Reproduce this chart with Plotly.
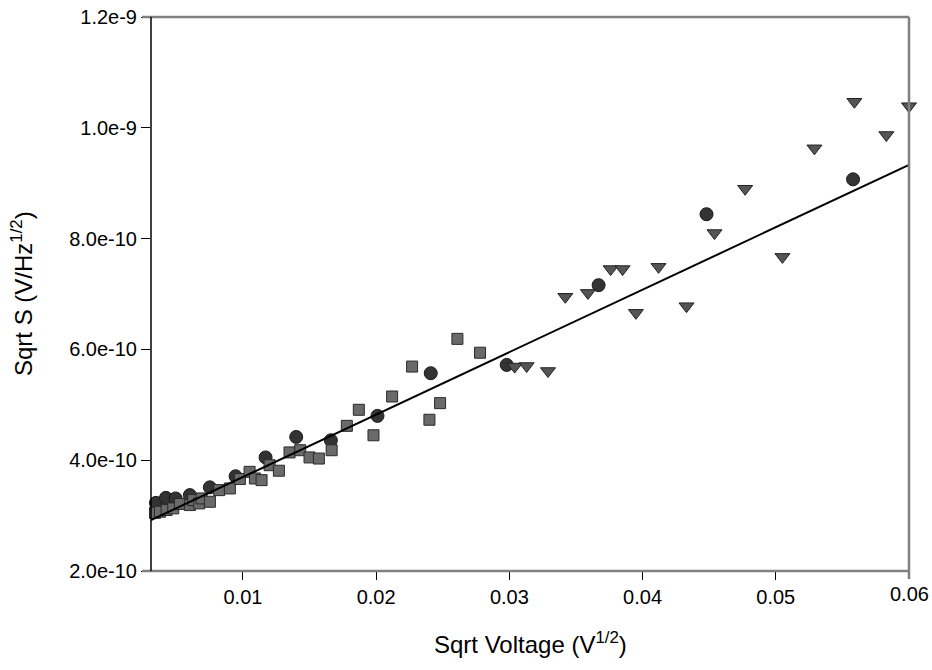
import plotly.graph_objects as go

# Series 1: circles
circ_x = [0.00347, 0.00422, 0.00495, 0.00602, 0.00752, 0.00945, 0.0117, 0.0140, 0.0166,
          0.0201, 0.0241, 0.0298, 0.0367, 0.0448, 0.0558]
circ_y = [3.23e-10, 3.32e-10, 3.31e-10, 3.37e-10, 3.51e-10, 3.71e-10, 4.05e-10, 4.42e-10, 4.36e-10,
          4.80e-10, 5.57e-10, 5.72e-10, 7.16e-10, 8.44e-10, 9.07e-10]

# Series 2: squares
sq_x = [0.0030, 0.0034, 0.00377, 0.00427, 0.00477, 0.00527, 0.00602, 0.00627, 0.00672, 0.0069,
        0.00752, 0.00822, 0.00902, 0.00977, 0.0105, 0.0109, 0.0114, 0.0120, 0.0127, 0.0135,
        0.0143, 0.0150, 0.0157, 0.01666, 0.0178, 0.0187, 0.0198, 0.0212, 0.0227, 0.0240,
        0.0248, 0.0261, 0.0278]
sq_y = [3.04e-10, 3.05e-10, 3.07e-10, 3.10e-10, 3.13e-10, 3.21e-10, 3.19e-10, 3.28e-10, 3.22e-10, 3.31e-10,
        3.25e-10, 3.46e-10, 3.49e-10, 3.66e-10, 3.79e-10, 3.67e-10, 3.64e-10, 3.91e-10, 3.81e-10, 4.14e-10,
        4.18e-10, 4.05e-10, 4.03e-10, 4.18e-10, 4.62e-10, 4.91e-10, 4.45e-10, 5.15e-10, 5.69e-10, 4.73e-10,
        5.03e-10, 6.19e-10, 5.94e-10]

# Series 3: triangles
tri_x = [0.0304, 0.0313, 0.0329, 0.0342, 0.0359, 0.0376, 0.0385, 0.0395, 0.0412, 0.0433,
         0.0454, 0.0477, 0.0505, 0.0529, 0.0559, 0.0583, 0.0600]
tri_y = [5.69e-10, 5.70e-10, 5.61e-10, 6.95e-10, 7.02e-10, 7.45e-10, 7.45e-10, 6.66e-10, 7.49e-10, 6.78e-10,
         8.10e-10, 8.90e-10, 7.67e-10, 9.63e-10, 10.47e-10, 9.87e-10, 10.39e-10]

# Linear fit
fit_slope = 1.127e-8
fit_intercept = 2.57e-10
fit_x = [0.0031, 0.0600]
fit_y = [fit_intercept + fit_slope * v for v in fit_x]

x_ticks = [0.01, 0.02, 0.03, 0.04, 0.05, 0.06]
x_ticktext = ["0.01", "0.02", "0.03", "0.04", "0.05", "0.06"]
y_ticks = [2e-10, 4e-10, 6e-10, 8e-10, 1.0e-9, 1.2e-9]
y_ticktext = ["2.0e-10", "4.0e-10", "6.0e-10", "8.0e-10", "1.0e-9", "1.2e-9"]

FONT = "Liberation Sans, Arial, sans-serif"
TICK_SIZE = 20
TITLE_SIZE = 24

fig = go.Figure()
fig.add_trace(go.Scatter(x=circ_x, y=circ_y, mode="markers", cliponaxis=False,
                         marker=dict(symbol="circle", size=13, color="#333333",
                                     line=dict(color="#1a1a1a", width=1))))
fig.add_trace(go.Scatter(x=sq_x, y=sq_y, mode="markers", cliponaxis=False,
                         marker=dict(symbol="square", size=11, color="#6a6a6a",
                                     line=dict(color="#2a2a2a", width=1))))
fig.add_trace(go.Scatter(x=tri_x, y=tri_y, mode="markers", cliponaxis=False,
                         marker=dict(symbol="triangle-down", size=13, color="#555555",
                                     line=dict(color="#222222", width=1))))
fig.add_trace(go.Scatter(x=fit_x, y=fit_y, mode="lines",
                         line=dict(color="black", width=2)))

gray = "#808080"
shapes = [
    dict(type="line", xref="paper", yref="paper", x0=-9/758, x1=1, y0=0, y1=0,
         line=dict(color=gray, width=2.5)),
    dict(type="line", xref="paper", yref="paper", x0=-9/758, x1=1, y0=1, y1=1,
         line=dict(color=gray, width=2.5)),
    dict(type="line", xref="paper", yref="paper", x0=1, x1=1, y0=-8/554, y1=1,
         line=dict(color=gray, width=2.5)),
    dict(type="line", xref="paper", yref="paper", x0=0, x1=0, y0=0, y1=1,
         line=dict(color="black", width=1.5)),
]

fig.update_layout(
    width=932, height=670,
    margin=dict(l=151, r=23, t=17, b=99, autoexpand=False),
    paper_bgcolor="white", plot_bgcolor="white",
    showlegend=False,
    font=dict(family=FONT, color="black", size=TICK_SIZE),
    shapes=shapes,
    xaxis=dict(range=[0.0031, 0.06], tickvals=x_ticks[:-1], ticktext=x_ticktext[:-1],
               showgrid=False, zeroline=False, showline=False, automargin=False,
               ticks="outside", ticklen=8, tickcolor="black", tickwidth=1.2,
               tickfont=dict(size=TICK_SIZE, family=FONT)),
    yaxis=dict(range=[2e-10, 1.2e-9], tickvals=y_ticks, ticktext=y_ticktext,
               showgrid=False, zeroline=False, showline=False, automargin=False,
               ticks="outside", ticklen=9, tickcolor="black", tickwidth=1.2,
               tickfont=dict(size=TICK_SIZE, family=FONT)),
)
# last x tick label (drawn at the gray right frame line)
fig.add_annotation(x=x_ticks[-1], y=0, xref="x", yref="paper", text=x_ticktext[-1], showarrow=False,
                   yanchor="top", yshift=-10, font=dict(size=TICK_SIZE, family=FONT))
# axis titles
fig.add_annotation(x=0.5, y=0, xref="paper", yref="paper", text="Sqrt Voltage (V<sup>1/2</sup>)",
                   showarrow=False, yanchor="middle", yshift=-72,
                   font=dict(size=TITLE_SIZE, family=FONT))
fig.add_annotation(x=0, y=0.5, xref="paper", yref="paper", text="Sqrt S (V/Hz<sup>1/2</sup>)",
                   showarrow=False, xanchor="center", xshift=-129, textangle=-90,
                   font=dict(size=TITLE_SIZE, family=FONT))

fig.write_html("out.html", config={"displayModeBar": False},
               post_script="document.body.style.margin='0';document.body.style.overflow='hidden';")
